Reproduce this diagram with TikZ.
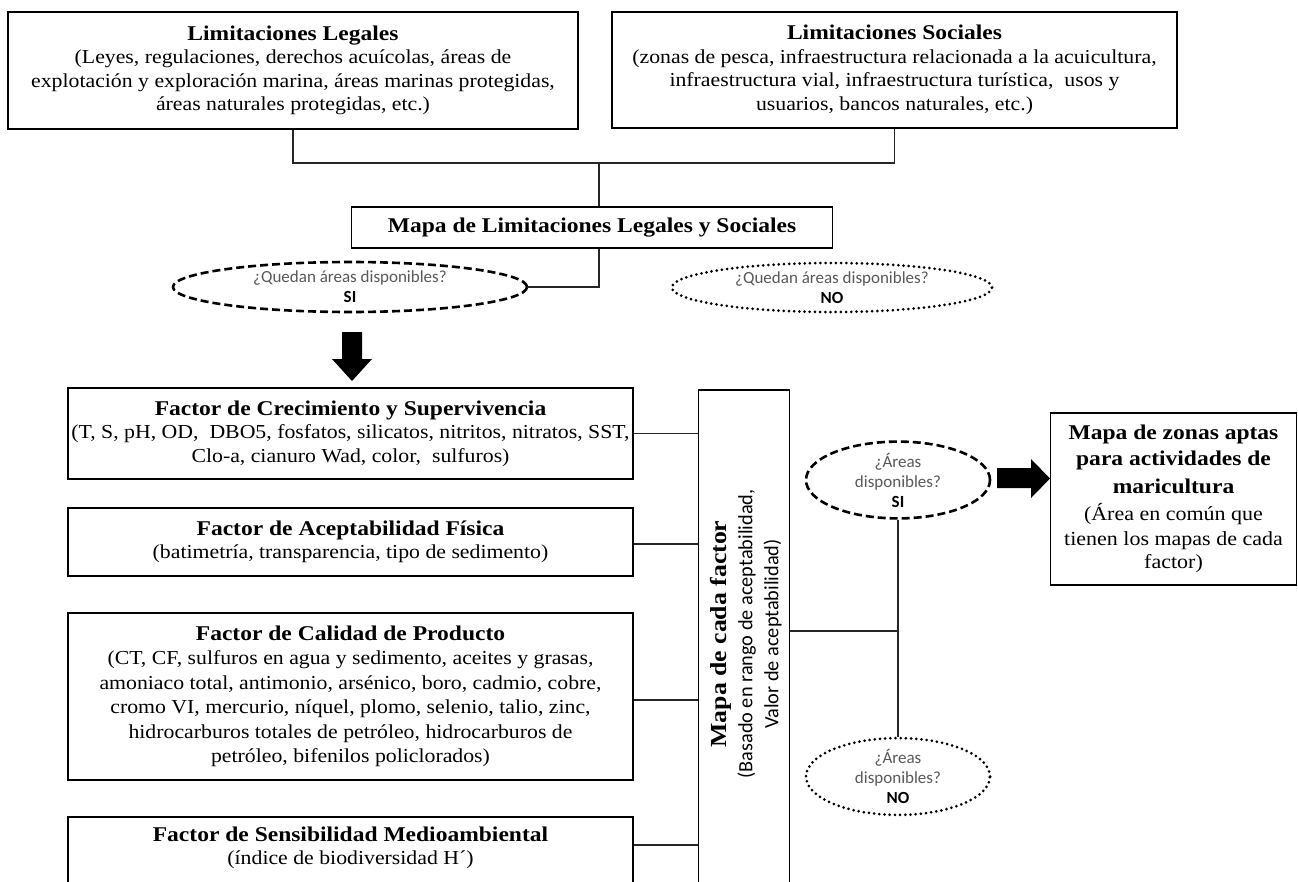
\documentclass[tikz,border=0pt]{standalone}
\usepackage{fontspec}
\setmainfont{Liberation Serif}[FakeStretch=1.1]
\newfontfamily\titlefam{Liberation Serif}[FakeStretch=1.12]
\newfontfamily\carl{Carlito}
\newcommand{\boxtitle}[1]{{\titlefam\bfseries\fontsize{21}{24}\selectfont #1}}
\newcommand{\rtitle}[1]{{\titlefam\bfseries\fontsize{21}{27}\selectfont #1}}
\newcommand{\rbody}[1]{{\fontsize{20}{24.5}\selectfont #1}}
\usetikzlibrary{shapes.geometric}
\tikzset{
  box/.style={draw=black, line width=1.6pt, rectangle, inner sep=0pt, align=center,
     font=\fontsize{19.8}{23.5}\selectfont},
  conn/.style={draw=black!85, line width=1.5pt},
  dashell/.style={draw=black, line width=2.6pt, ellipse, dash pattern=on 8pt off 4pt,
     inner sep=0pt, align=center, font=\carl\fontsize{17}{20}\selectfont},
  dotell/.style={draw=black, line width=3pt, ellipse, line cap=round, dash pattern=on 0pt off 5.2pt,
     inner sep=0pt, align=center, font=\carl\fontsize{17}{20}\selectfont},
  bigarrow/.style={fill=black, draw=none}
}
\begin{document}
\begin{tikzpicture}[x=1pt,y=-1pt]
\useasboundingbox[fill=white] (0,0) rectangle (1298,881);

% top boxes
\node[box, minimum width=570pt, minimum height=117pt] (legal) at (293,70.5)
  {\boxtitle{Limitaciones Legales}\\(Leyes, regulaciones, derechos acuícolas, áreas de\\explotación y exploración marina, áreas marinas protegidas,\\áreas naturales protegidas, etc.)};
\node[box, minimum width=565pt, minimum height=116pt] (social) at (894.5,70)
  {\boxtitle{Limitaciones Sociales}\\(zonas de pesca, infraestructura relacionada a la acuicultura,\\infraestructura vial, infraestructura turística,\ \ usos y\\usuarios, bancos naturales, etc.)};
\coordinate (j) at (599,163);
\draw[conn] (legal.south) |- (j) -| (social.south);

\node[box, minimum width=481pt, minimum height=41pt] (mapa) at (592,227.5)
  {\boxtitle{Mapa de Limitaciones Legales y Sociales}};
\draw[conn] (j) -- (j |- mapa.north);

\node[dashell, minimum width=354pt, minimum height=50pt] (si1) at (350,287)
  {\textcolor{black!65}{¿Quedan áreas disponibles?}\\\textbf{SI}};
\node[dotell, minimum width=320pt, minimum height=49pt] (no1) at (832,287.5)
  {\textcolor{black!65}{¿Quedan áreas disponibles?}\\\textbf{NO}};
\draw[conn] (j |- mapa.south) |- (si1.east);

% big down arrow
\fill[bigarrow] (342,332) -- (362,332) -- (362,359) -- (372,359) -- (352,381) -- (332,359) -- (342,359) -- cycle;

% factor boxes
\node[box, minimum width=565pt, minimum height=91pt] (crec) at (350.5,433.5)
  {\boxtitle{Factor de Crecimiento y Supervivencia}\\(T, S, pH, OD,\ \ DBO5, fosfatos, silicatos, nitritos, nitratos, SST,\\Clo-a, cianuro Wad, color,\ \ sulfuros)};
\node[box, minimum width=565pt, minimum height=68pt] (acep) at (350.5,542)
  {\boxtitle{Factor de Aceptabilidad Física}\\(batimetría, transparencia, tipo de sedimento)};
\node[box, minimum width=565pt, minimum height=167pt, font=\fontsize{19.8}{24.5}\selectfont] (calid) at (350.5,696.5)
  {\boxtitle{Factor de Calidad de Producto}\\(CT, CF, sulfuros en agua y sedimento, aceites y grasas,\\amoniaco total, antimonio, arsénico, boro, cadmio, cobre,\\cromo VI, mercurio, níquel, plomo, selenio, talio, zinc,\\hidrocarburos totales de petróleo, hidrocarburos de\\petróleo, bifenilos policlorados)};
\node[box, minimum width=565pt, minimum height=88pt, anchor=north] (sens) at (350.5,816)
  {\boxtitle{Factor de Sensibilidad Medioambiental}\\(índice de biodiversidad H´)\\\strut};

% vertical map box
\node[box, minimum width=91pt, minimum height=520pt, anchor=north] (vbox) at (744,389) {};
\node[rotate=90, align=center, font=\carl\fontsize{20.3}{26}\selectfont] (vtext) at (746,634)
  {{\titlefam\bfseries\fontsize{23}{26}\selectfont Mapa de cada factor}\\(Basado en rango de aceptabilidad,\\Valor de aceptabilidad)};

\draw[conn] (crec.east) -- (crec.east -| vbox.west);
\draw[conn] (acep.east |- 0,544) -- (vbox.west |- 0,544);
\draw[conn] (calid.east |- 0,700) -- (vbox.west |- 0,700);
\draw[conn] (sens.north east |- 0,845) -- (vbox.west |- 0,845);

% right side
\node[dashell, minimum width=184pt, minimum height=68pt] (si2) at (898,480)
  {\textcolor{black!65}{¿Áreas}\\\textcolor{black!65}{disponibles?}\\\textbf{SI}};
\node[dotell, minimum width=184pt, minimum height=69pt] (no2) at (898,776.5)
  {\textcolor{black!65}{¿Áreas}\\\textcolor{black!65}{disponibles?}\\\textbf{NO}};
\coordinate (k) at (898,631);
\draw[conn] (si2.south) -- (no2.north);
\draw[conn] (vbox.east |- k) -- (k);

\fill[bigarrow] (997,468) -- (1031,468) -- (1031,459) -- (1050,478.5) -- (1031,498) -- (1031,488) -- (997,488) -- cycle;

\node[box, minimum width=246pt, minimum height=172pt] (final) at (1173.5,499)
  {\rtitle{Mapa de zonas aptas}\\[3pt]\rtitle{para actividades de}\\[4pt]\rtitle{maricultura}\\[4pt]\rbody{(Área en común que}\\[1pt]\rbody{tienen los mapas de cada}\\[0pt]\rbody{factor)}};
\end{tikzpicture}
\end{document}
